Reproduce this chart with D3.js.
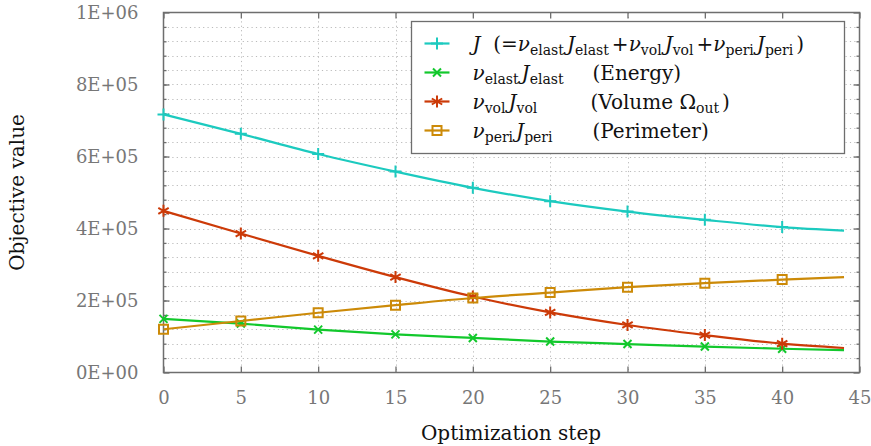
<!DOCTYPE html>
<html>
<head>
<meta charset="utf-8">
<script src="https://cdn.jsdelivr.net/npm/d3@7"></script>
<style>
  body { margin: 0; background: #fff; }
  svg { display: block; font-family: "DejaVu Serif", "Liberation Serif", serif; }
</style>
</head>
<body>
<svg id="chart" width="871" height="446"></svg>
<script>
// optimization steps (marks every 5, curve ends at 44)
var steps = [0, 5, 10, 15, 20, 25, 30, 35, 40, 44];
var markSteps = [0, 5, 10, 15, 20, 25, 30, 35, 40];

// objective values
var totalJ  = [717000, 663000, 607000, 558000, 513000, 476000, 447000, 424000, 404000, 394000];
var elastJ  = [149000, 136000, 119000, 106000, 96000, 86000, 79000, 72000, 66000, 62000];
var volJ    = [449000, 386000, 324000, 265000, 211000, 167000, 132000, 104000, 80000, 68000];
var periJ   = [120000, 143000, 166000, 187000, 207000, 222000, 237000, 248000, 258000, 265000];

var xTicks = [0, 5, 10, 15, 20, 25, 30, 35, 40, 45];
var yTicks = [0, 200000, 400000, 600000, 800000, 1000000];

var seriesColors = ['#1ccabf', '#12c82c', '#cc3a08', '#cc8a08'];
var seriesMarks  = ['plus', 'cross', 'asterisk', 'square'];

// legend labels: [text, italic, subscript]
var legendMain = [
  [['J', 1], ['  (=', 0], ['\u03bd', 1], ['elast', 0, 1], ['J', 1], ['elast', 0, 1], ['+', 0], ['\u03bd', 1], ['vol', 0, 1], ['J', 1], ['vol', 0, 1], ['+', 0], ['\u03bd', 1], ['peri', 0, 1], ['J', 1], ['peri', 0, 1], [')', 0]],
  [['\u03bd', 1], ['elast', 0, 1], ['J', 1], ['elast', 0, 1]],
  [['\u03bd', 1], ['vol', 0, 1], ['J', 1], ['vol', 0, 1]],
  [['\u03bd', 1], ['peri', 0, 1], ['J', 1], ['peri', 0, 1]]
];
var legendNote = [
  [],
  [['(Energy)', 0]],
  [['(Volume \u03a9', 0], ['out', 0, 1], [')', 0]],
  [['(Perimeter)', 0]]
];

var svg = d3.select('#chart');
var pL = 163.5, pR = 859.5, pT = 12.5, pB = 372.5;

var x = d3.scaleLinear().domain([0, 45]).range([pL, pR]);
var y = d3.scaleLinear().domain([0, 1000000]).range([pB, pT]);

var minorY = d3.range(40000, 1000000, 40000);

// dotted grid
var grid = svg.append('g').attr('stroke', '#bbbbbb').attr('stroke-width', 1).attr('stroke-dasharray', '1.2,3.2');
grid.selectAll('.gy').data(minorY).enter().append('line')
    .attr('x1', pL).attr('x2', pR)
    .attr('y1', function (d) { return Math.round(y(d)) + 0.5; })
    .attr('y2', function (d) { return Math.round(y(d)) + 0.5; });
grid.selectAll('.gx').data(xTicks.slice(1, -1)).enter().append('line')
    .attr('y1', pT).attr('y2', pB)
    .attr('x1', function (d) { return Math.round(x(d)) + 0.5; })
    .attr('x2', function (d) { return Math.round(x(d)) + 0.5; });

var axisColor = '#6e6e6e';
var labelColor = '#777';

// bottom axis with labels
svg.append('g').attr('transform', 'translate(0,' + pB + ')')
    .call(d3.axisBottom(x).tickValues(xTicks).tickSizeInner(-6).tickSizeOuter(0).tickPadding(19));
// top axis, ticks only
svg.append('g').attr('transform', 'translate(0,' + pT + ')')
    .call(d3.axisTop(x).tickValues(xTicks).tickSizeInner(-6).tickSizeOuter(0).tickFormat(''));
// left axis
var gy = svg.append('g').attr('transform', 'translate(' + pL + ',0)')
    .call(d3.axisLeft(y).tickValues(yTicks).tickSizeInner(-6).tickSizeOuter(0).tickPadding(25)
      .tickFormat(function (d) {
        var e = d === 0 ? 0 : Math.floor(Math.log10(d));
        var m = d === 0 ? 0 : d / Math.pow(10, e);
        return m + 'E+' + (e < 10 ? '0' : '') + e;
      }));
svg.append('g').attr('transform', 'translate(' + pR + ',0)')
    .call(d3.axisRight(y).tickValues(yTicks).tickSizeInner(-6).tickSizeOuter(0).tickFormat(''));
// minor ticks on left/right
svg.append('g').attr('transform', 'translate(' + pL + ',0)')
    .call(d3.axisLeft(y).tickValues(minorY).tickSizeInner(-3).tickSizeOuter(0).tickFormat(''));
svg.append('g').attr('transform', 'translate(' + pR + ',0)')
    .call(d3.axisRight(y).tickValues(minorY).tickSizeInner(-3).tickSizeOuter(0).tickFormat(''));

svg.selectAll('.domain').remove();
svg.selectAll('.tick line').attr('stroke', axisColor).attr('stroke-width', 1.3);
svg.selectAll('.tick text').attr('fill', labelColor).style('font-size', '18px')
    .style('font-family', '"DejaVu Serif", serif');
gy.selectAll('.tick text').attr('dy', '0.36em');

// frame
svg.append('rect').attr('x', pL).attr('y', pT)
    .attr('width', pR - pL).attr('height', pB - pT)
    .attr('fill', 'none').attr('stroke', axisColor).attr('stroke-width', 1.5);

// axis titles
svg.append('text').attr('x', 511).attr('y', 440)
    .attr('text-anchor', 'middle').style('font-size', '20px').attr('fill', '#111')
    .text('Optimization step');
svg.append('text').attr('transform', 'translate(24,' + ((pT + pB) / 2) + ') rotate(-90)')
    .attr('text-anchor', 'middle').style('font-size', '20px').attr('fill', '#111')
    .text('Objective value');

// marks
function markPath(type) {
  if (type === 'plus') return 'M-6,0H6M0,-6V6';
  if (type === 'cross') return 'M-4,-4L4,4M-4,4L4,-4';
  if (type === 'asterisk') return 'M0,-6V6M-5.2,-3L5.2,3M-5.2,3L5.2,-3';
  return 'M-4.5,-4.5H4.5V4.5H-4.5Z';
}

var allSeries = [totalJ, elastJ, volJ, periJ];
var line = d3.line()
    .x(function (d, i) { return x(steps[i]); })
    .y(function (d) { return y(d); })
    .curve(d3.curveMonotoneX);

allSeries.forEach(function (vals, s) {
  svg.append('path').datum(vals)
      .attr('d', line)
      .attr('fill', 'none')
      .attr('stroke', seriesColors[s])
      .attr('stroke-width', 2.2);
  svg.append('g').selectAll('path').data(markSteps).enter().append('path')
      .attr('transform', function (d, i) { return 'translate(' + x(d) + ',' + y(vals[i]) + ')'; })
      .attr('d', markPath(seriesMarks[s]))
      .attr('fill', 'none')
      .attr('stroke', seriesColors[s])
      .attr('stroke-width', 2);
});

// legend
var lg = svg.append('g').attr('transform', 'translate(411.5,21.5)');
lg.append('rect').attr('width', 433).attr('height', 132)
    .attr('fill', '#fff').attr('stroke', axisColor).attr('stroke-width', 1.3);

function richText(sel, parts) {
  parts.forEach(function (p, k) {
    var prevSub = k > 0 && parts[k - 1][2];
    var ts = sel.append('tspan').text(p[0]).style('white-space', 'pre');
    if (p[1]) ts.style('font-style', 'italic');
    if (p[2]) ts.style('font-size', '14px');
    if (p[2] && !prevSub) ts.attr('dy', 4);
    if (!p[2] && prevSub) ts.attr('dy', -4).attr('dx', 3);
  });
}

legendMain.forEach(function (parts, i) {
  var cy = 22 + i * 29;
  lg.append('line').attr('x1', 13).attr('x2', 38).attr('y1', cy).attr('y2', cy)
      .attr('stroke', seriesColors[i]).attr('stroke-width', 2.2);
  lg.append('path').attr('transform', 'translate(25.5,' + cy + ')')
      .attr('d', markPath(seriesMarks[i])).attr('fill', 'none')
      .attr('stroke', seriesColors[i]).attr('stroke-width', 2);
  var t = lg.append('text').attr('x', 61).attr('y', cy + 7).style('font-size', '20px').attr('fill', '#111');
  richText(t, parts);
  if (legendNote[i].length) {
    var n = lg.append('text').attr('x', i === 2 ? 179 : 181).attr('y', cy + 7).style('font-size', '20px').attr('fill', '#111');
    richText(n, legendNote[i]);
  }
});
</script>
</body>
</html>
